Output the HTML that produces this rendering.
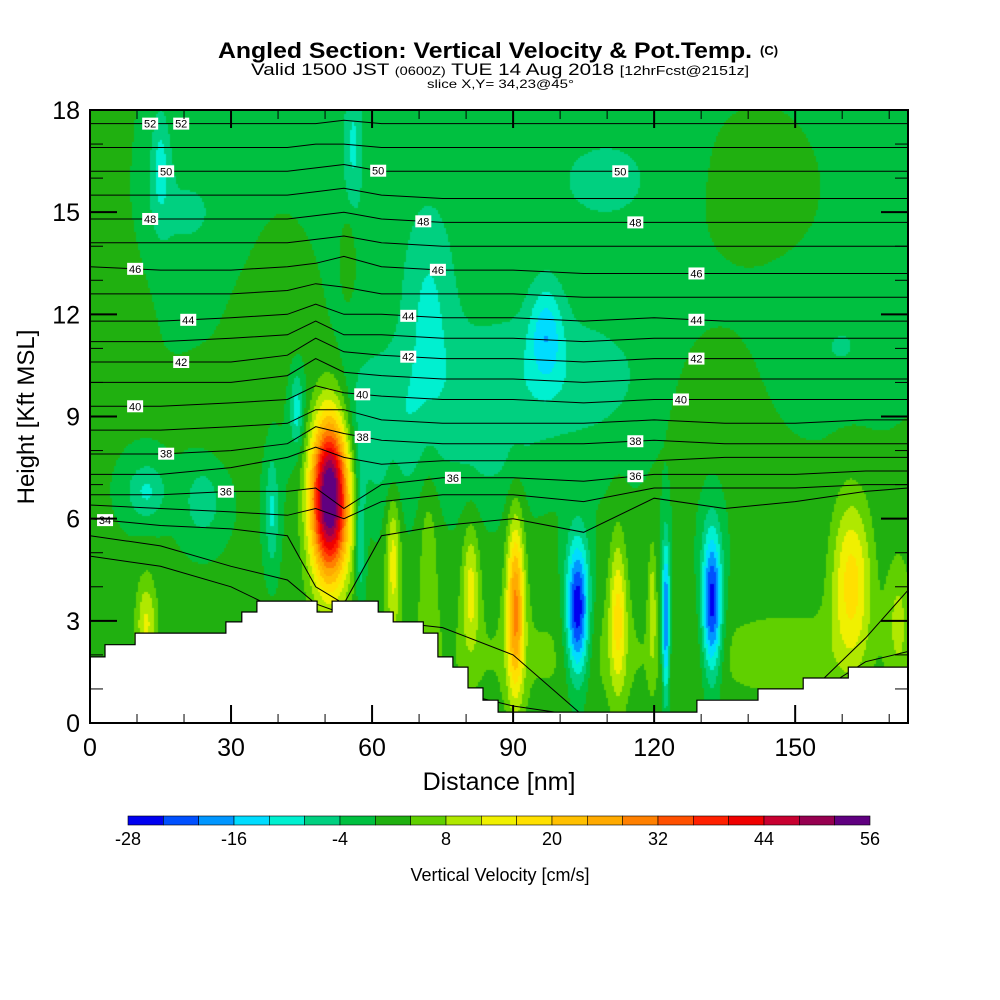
<!DOCTYPE html>
<html><head><meta charset="utf-8"><style>
body{margin:0;background:#fff;width:1000px;height:1000px;overflow:hidden;font-family:"Liberation Sans",sans-serif}
#wrap{position:relative;width:1000px;height:1000px}
canvas,svg{position:absolute;left:0;top:0}
</style></head><body><div id="wrap">
<canvas id="cv" width="1000" height="1000"></canvas>
<svg id="sv" width="1000" height="1000"></svg>
</div>
<script>
// ---- data ----
const xMax = 174, zMax = 18;
const baseValue = 0.4;
// blobs: [x nm, z kft, amplitude cm/s, sigma x, sigma z]
const blobX   = [51, 57.5, 44, 38.7, 64.5, 72, 81, 90.5, 103.7, 112.3, 119.6, 122.5, 132.3, 162, 12, 172, 100, 12, 24, 97, 60, 95, 15, 56, 72, 55, 40, 140, 5, 130, 30, 150, 20, 110, 160, 85, 90];
const blobZ   = [6.7, 5.5, 9.2, 6.2, 4.8, 5, 4, 3.4, 3.3, 3.2, 3.5, 3.0, 3.5, 4.2, 2.9, 3, 2, 6.8, 6.5, 11.5, 8.5, 10, 16.5, 17, 12.5, 13.8, 12, 15.5, 14, 9.5, 9, 2, 15, 16, 11, 7.5, 15];
const blobAmp = [62, -10, -10, -9, 13, 6, 12, 27, -30, 15, 9, -24, -28, 17, 12, 8, 4, -9, -7, -11, -7, -7, -8, -8, -7, 5, 3, 2, 3, 3, 2, 4, -4, -4, -4, -3, -1.6];
const blobSx  = [2.9, 0.8, 1, 1, 1.1, 1.5, 1.3, 1.3, 1.7, 1.3, 0.6, 0.6, 1.5, 3, 1.6, 2, 40, 3, 3, 2.5, 10, 20, 1.5, 1.5, 4, 1, 6, 10, 5, 8, 6, 10, 8, 10, 8, 6, 70];
const blobSz  = [1.7, 1.5, 0.8, 1.2, 1.5, 2, 1.3, 1.8, 1.4, 1.6, 1.3, 1.6, 1.5, 1.7, 1, 1.5, 1.5, 0.6, 0.8, 1, 1.5, 1.5, 1.2, 1.5, 2, 0.8, 2, 1.5, 2, 1.5, 1, 1, 1.2, 1.2, 1.2, 1, 3.5];
const colorLevels = [-28,-24,-20,-16,-12,-8,-4,0,4,8,12,16,20,24,28,32,36,40,44,48,52];
const colors = ["#0000f0","#0050ff","#0096ff","#00dcff","#00f0d0","#00d080","#00c040","#20b010","#60d000","#b0e800","#f0f000","#ffe000","#ffc000","#ffaa00","#ff8000","#ff5000","#ff2000","#f00000","#c80030","#960050","#600080"];
const cbLabels = [-28,-16,-4,8,20,32,44,56];
// terrain
const terrX = [0,3.2,9.6,28.9,32.3,35.5,48.3,51.5,61.3,64.5,70.9,74,77.2,80.4,83.6,86.8,129.1,142.1,151.7,161.3,174];
const terrZ = [1.94,2.3,2.64,2.97,3.26,3.58,3.26,3.58,3.26,2.97,2.64,1.94,1.64,1.03,0.67,0.32,0.67,1.0,1.32,1.64];
// potential temperature contours: heights (kft) at sample distances
const thX = [0,15,30,42,48,54,62,75,90,105,120,135,150,165,174];
const thLevels = [32,33,34,35,36,37,38,39,40,41,42,43,44,45,46,47,48,49,50,51,52,53];
const thZ = [
 [4.9,4.6,4.0,3.2,2.5,2.0,1.5,1.0,0.5,0.2,0.2,0.3,0.5,1.8,2.1],
 [5.5,5.2,4.6,4.2,3.5,3.2,3.0,2.8,2.0,0.2,0.2,0.3,0.5,2.5,3.9],
 [6.0,5.8,5.7,5.5,4.0,3.5,5.5,5.8,6.0,5.6,6.6,6.3,6.5,6.8,6.9],
 [6.4,6.3,6.2,6.1,6.3,6.0,6.5,6.7,6.7,6.5,6.9,6.9,6.9,7.0,7.0],
 [6.7,6.7,6.8,6.8,6.9,6.3,7.0,7.2,7.2,7.1,7.3,7.3,7.3,7.4,7.4],
 [7.3,7.3,7.5,7.8,8.1,7.8,7.6,7.7,7.7,7.7,7.7,7.8,7.8,7.8,7.8],
 [7.9,7.9,8.0,8.2,8.7,8.5,8.3,8.2,8.2,8.2,8.3,8.2,8.2,8.2,8.2],
 [8.6,8.6,8.7,8.8,9.2,9.2,8.9,8.8,8.8,8.8,8.9,8.8,8.8,8.9,8.9],
 [9.3,9.3,9.4,9.5,9.9,9.7,9.6,9.5,9.5,9.4,9.5,9.5,9.5,9.5,9.5],
 [10.0,10.0,10.0,10.2,10.7,10.3,10.2,10.1,10.1,10.0,10.1,10.1,10.1,10.1,10.1],
 [10.6,10.6,10.6,10.8,11.3,10.9,10.8,10.7,10.7,10.6,10.7,10.7,10.7,10.7,10.7],
 [11.2,11.2,11.3,11.4,11.8,11.4,11.4,11.3,11.3,11.2,11.3,11.3,11.3,11.3,11.3],
 [11.8,11.8,11.9,12.0,12.3,12.0,12.0,11.9,11.9,11.8,11.9,11.8,11.8,11.8,11.8],
 [12.6,12.6,12.6,12.7,12.9,12.8,12.6,12.6,12.6,12.5,12.5,12.5,12.5,12.5,12.5],
 [13.4,13.3,13.3,13.4,13.5,13.7,13.4,13.3,13.3,13.2,13.2,13.2,13.2,13.2,13.2],
 [14.1,14.1,14.1,14.1,14.2,14.3,14.1,14.0,14.0,14.0,14.0,14.0,14.0,14.0,14.0],
 [14.8,14.8,14.8,14.8,14.9,15.0,14.8,14.7,14.7,14.7,14.7,14.7,14.7,14.7,14.7],
 [15.5,15.5,15.5,15.5,15.6,15.7,15.5,15.4,15.4,15.4,15.4,15.4,15.4,15.4,15.4],
 [16.2,16.2,16.2,16.2,16.3,16.4,16.2,16.2,16.2,16.2,16.2,16.2,16.2,16.2,16.2],
 [16.9,16.9,16.9,16.9,17.0,17.0,16.9,16.9,16.9,16.9,16.9,16.9,16.9,16.9,16.9],
 [17.6,17.6,17.6,17.6,17.6,17.7,17.6,17.6,17.6,17.6,17.6,17.6,17.6,17.6,17.6],
 [18.2,18.2,18.2,18.2,18.2,18.3,18.2,18.2,18.2,18.2,18.2,18.2,18.2,18.2,18.2]
];
const labLevel = [52,52,50,50,50,48,48,48,46,46,46,44,44,44,42,42,42,40,40,40,38,38,38,36,36,36,34];
const labX = [12.8,19.4,16.2,61.3,112.8,12.8,70.9,116,9.6,74,129,20.9,67.7,129,19.4,67.7,129,9.6,57.9,125.7,16.2,58,116,28.9,77.2,116,3.2];
const xTicks = [0,30,60,90,120,150];
const yTicks = [0,3,6,9,12,15,18];

// ---- scales ----
const PL=90, PR=908, PT=110, PB=723;
const sx = x => PL + x/xMax*(PR-PL);
const sz = z => PB - z/zMax*(PB-PT);
function field(x,z){let v=baseValue;for(let i=0;i<blobX.length;i++){const dx=(x-blobX[i])/blobSx[i],dz=(z-blobZ[i])/blobSz[i];v+=blobAmp[i]*Math.exp(-0.5*(dx*dx+dz*dz));}return v;}
function hex(c){return [parseInt(c.substr(1,2),16),parseInt(c.substr(3,2),16),parseInt(c.substr(5,2),16)];}
const rgb = colors.map(hex);

const ctx=document.getElementById('cv').getContext('2d');
ctx.fillStyle='#fff';ctx.fillRect(0,0,1000,1000);
const W=PR-PL,H=PB-PT,img=ctx.createImageData(W,H);
for(let py=0;py<H;py+=2)for(let px=0;px<W;px+=2){
 const x=(px+1)/W*xMax,z=(H-py-1)/H*zMax;const v=field(x,z);
 let i=Math.max(0,Math.min(20,Math.floor((v-colorLevels[0])/4)));const c=rgb[i];
 for(let a=0;a<2;a++)for(let b=0;b<2;b++){const yy=py+a,xx=px+b;if(yy>=H||xx>=W)continue;const k=(yy*W+xx)*4;img.data[k]=c[0];img.data[k+1]=c[1];img.data[k+2]=c[2];img.data[k+3]=255;}
}
ctx.putImageData(img,PL,PT);

const NS='http://www.w3.org/2000/svg', svg=document.getElementById('sv');
function mk(tag,attrs,parent){const e=document.createElementNS(NS,tag);for(const k in attrs)e.setAttribute(k,attrs[k]);(parent||svg).appendChild(e);return e;}
function txt(s,attrs,parent){const e=mk('text',attrs,parent);e.textContent=s;return e;}

const defs=mk('defs',{});const cp=mk('clipPath',{id:'pc'},defs);mk('rect',{x:PL,y:PT,width:W,height:H},cp);
const gC=mk('g',{'clip-path':'url(#pc)'});


thLevels.forEach((L,li)=>{
 const d=thX.map((x,j)=>(j?'L':'M')+sx(x).toFixed(1)+','+sz(thZ[li][j]).toFixed(1)).join(' ');
 const p=mk('path',{d:d,fill:'none',stroke:'#000','stroke-width':1},gC);
 
 
});
let td='M'+sx(0)+','+PB;
for(let i=0;i<terrZ.length;i++){td+=' L'+sx(terrX[i]).toFixed(1)+','+sz(terrZ[i]).toFixed(1)+' L'+sx(terrX[i+1]).toFixed(1)+','+sz(terrZ[i]).toFixed(1);}
td+=' L'+sx(xMax)+','+PB+' Z';
const terr=mk('path',{d:td,fill:'#fff',stroke:'#000','stroke-width':1.2});


function interpZ(li,x){for(let j=0;j<thX.length-1;j++){if(x>=thX[j]&&x<=thX[j+1]){const t=(x-thX[j])/(thX[j+1]-thX[j]);return thZ[li][j]*(1-t)+thZ[li][j+1]*t;}}return thZ[li][0];}
labLevel.forEach((L,i)=>{
 const li=thLevels.indexOf(L);const X=sx(labX[i]),Y=sz(interpZ(li,labX[i]));
 const g=mk('g',{});
 
 
 mk('rect',{x:X-8,y:Y-6,width:16,height:12,fill:'#fff'},g);
 txt(String(L),{x:X,y:Y+4,'font-size':11,'text-anchor':'middle',fill:'#000'},g);
});
const fr=mk('rect',{x:PL,y:PT,width:W,height:H,fill:'none',stroke:'#000','stroke-width':2});


const gT=mk('g',{stroke:'#000'});


for(let v=0;v<=zMax;v++){const y=sz(v),maj=v%3===0,l=maj?27:13,w=maj?2:1;
 mk('line',{x1:PL,y1:y,x2:PL+l,y2:y,'stroke-width':w},gT);mk('line',{x1:PR,y1:y,x2:PR-l,y2:y,'stroke-width':w},gT);}
for(let v=0;v<=170;v+=10){const x=sx(v),maj=v%30===0,l=maj?18:9,w=maj?2:1;
 mk('line',{x1:x,y1:PB,x2:x,y2:PB-l,'stroke-width':w},gT);mk('line',{x1:x,y1:PT,x2:x,y2:PT+l,'stroke-width':w},gT);}
yTicks.forEach(v=>{const t=txt(String(v),{x:PL-10,y:sz(v)+9,'font-size':25,'text-anchor':'end'});
 
 });
xTicks.forEach(v=>{const t=txt(String(v),{x:sx(v),y:756,'font-size':25,'text-anchor':'middle'});
 
 });
</script>
<svg width="1000" height="1000" style="position:absolute;left:0;top:0">
<text x="218" y="58" font-size="22" font-weight="bold" textLength="534" lengthAdjust="spacingAndGlyphs">Angled Section: Vertical Velocity &amp; Pot.Temp.</text>
<text x="760" y="55" font-size="13" font-weight="bold">(C)</text>
<text x="251" y="75" font-size="17" textLength="498" lengthAdjust="spacingAndGlyphs">Valid 1500 JST <tspan font-size="12">(0600Z)</tspan> TUE 14 Aug 2018 <tspan font-size="13">[12hrFcst@2151z]</tspan></text>
<text x="427" y="88" font-size="12" textLength="147" lengthAdjust="spacingAndGlyphs">slice X,Y= 34,23@45°</text>
<text x="499" y="790" font-size="25" text-anchor="middle">Distance [nm]</text>
<text transform="translate(34,417) rotate(-90)" font-size="24" text-anchor="middle">Height [Kft MSL]</text>
<g id="cb"></g>
<text x="500" y="881" font-size="18" text-anchor="middle">Vertical Velocity [cm/s]</text>
</svg>
<script>
(function(){
 const g=document.getElementById('cb');const NS='http://www.w3.org/2000/svg';
 const x0=128,x1=870,n=colors.length,w=(x1-x0)/n;
 colors.forEach((c,i)=>{const r=document.createElementNS(NS,'rect');
  r.setAttribute('x',x0+i*w);r.setAttribute('y',816);r.setAttribute('width',w);r.setAttribute('height',9);
  r.setAttribute('fill',c);r.setAttribute('stroke','#000');r.setAttribute('stroke-width','0.6');
  
  
  g.appendChild(r);});
 cbLabels.forEach(v=>{const t=document.createElementNS(NS,'text');
  t.setAttribute('x',x0+(v+28)/84*(x1-x0));t.setAttribute('y',845);t.setAttribute('font-size','18');t.setAttribute('text-anchor','middle');
  t.textContent=String(v);
  
  
  g.appendChild(t);});
})();
</script>
</body></html>
